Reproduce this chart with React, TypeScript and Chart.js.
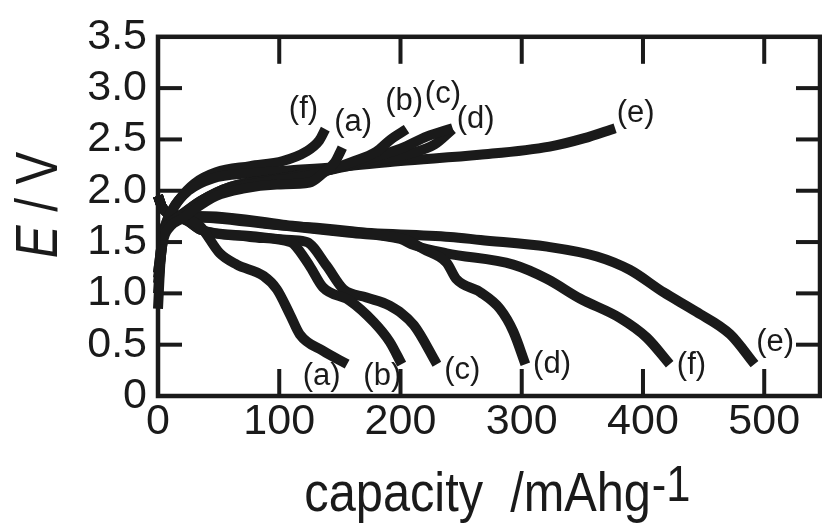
import React, { useEffect, useRef } from "react";
import { Chart, registerables } from "chart.js";

Chart.register(...registerables);

// ---- data: [capacity mAh/g, E / V] ----
const chargeA: [number, number][] = [[0, 1.1], [4, 1.5], [10, 1.65], [20, 1.73], [30, 1.82], [48, 1.95], [70, 2.02], [98, 2.06], [125, 2.08], [136, 2.17], [146, 2.28], [150, 2.37], [152, 2.42]];
const chargeB: [number, number][] = [[0, 1.2], [4, 1.55], [12, 1.7], [25, 1.8], [40, 1.93], [60, 2.02], [90, 2.09], [115, 2.13], [135, 2.18], [160, 2.28], [180, 2.38], [192, 2.5], [205, 2.6]];
const chargeC: [number, number][] = [[0, 1.15], [5, 1.58], [15, 1.72], [35, 1.9], [60, 2.04], [100, 2.12], [140, 2.2], [170, 2.3], [200, 2.41], [222, 2.53], [243, 2.61]];
const chargeD: [number, number][] = [[0, 1.2], [5, 1.6], [15, 1.73], [35, 1.9], [60, 2.04], [100, 2.12], [140, 2.2], [180, 2.3], [210, 2.37], [228, 2.45], [243, 2.6]];
const chargeE: [number, number][] = [[0, 0.85], [2, 1.3], [5, 1.6], [12, 1.82], [25, 2.0], [45, 2.12], [75, 2.17], [110, 2.2], [145, 2.23], [200, 2.29], [265, 2.35], [323, 2.43], [351, 2.51], [377, 2.61]];
const chargeF: [number, number][] = [[0, 1.0], [3, 1.5], [8, 1.72], [18, 1.92], [30, 2.07], [48, 2.18], [76, 2.24], [103, 2.29], [122, 2.38], [133, 2.49], [138, 2.6]];

const dischargeA: [number, number][] = [[0, 1.95], [3, 1.85], [8, 1.78], [18, 1.74], [25, 1.72], [35, 1.65], [51, 1.39], [65, 1.28], [87, 1.17], [98, 1.04], [109, 0.79], [117, 0.6], [136, 0.44], [156, 0.31]];
const dischargeB: [number, number][] = [[0, 1.95], [3, 1.85], [8, 1.78], [18, 1.74], [25, 1.7], [35, 1.62], [76, 1.55], [109, 1.5], [112, 1.48], [125, 1.27], [136, 1.06], [158, 0.93], [178, 0.72], [191, 0.53], [201, 0.31]];
const dischargeC: [number, number][] = [[0, 1.95], [3, 1.85], [8, 1.78], [18, 1.74], [25, 1.7], [35, 1.62], [76, 1.56], [110, 1.52], [123, 1.5], [139, 1.27], [153, 1.04], [172, 0.96], [191, 0.88], [211, 0.69], [230, 0.31]];
const dischargeD: [number, number][] = [[0, 1.95], [3, 1.85], [8, 1.78], [18, 1.75], [48, 1.73], [103, 1.66], [131, 1.64], [183, 1.57], [205, 1.52], [219, 1.43], [238, 1.3], [246, 1.14], [266, 1.01], [282, 0.85], [293, 0.63], [303, 0.31]];
const dischargeE: [number, number][] = [[0, 1.95], [3, 1.85], [8, 1.78], [18, 1.76], [48, 1.75], [103, 1.67], [158, 1.6], [241, 1.55], [266, 1.52], [321, 1.455], [362, 1.36], [389, 1.23], [417, 1.01], [444, 0.82], [472, 0.6], [492, 0.31]];
const dischargeF: [number, number][] = [[0, 1.95], [3, 1.85], [8, 1.78], [18, 1.75], [48, 1.74], [103, 1.66], [158, 1.59], [200, 1.53], [211, 1.47], [238, 1.39], [293, 1.28], [321, 1.14], [348, 0.95], [381, 0.76], [403, 0.57], [422, 0.31]];

const seriesList = [chargeA, chargeB, chargeC, chargeD, chargeE, chargeF, dischargeA, dischargeB, dischargeC, dischargeD, dischargeE, dischargeF];

// curve labels
const curveLabelText = ["(a)", "(b)", "(c)", "(d)", "(f)", "(e)", "(f)", "(a)", "(b)", "(c)", "(d)", "(e)"];
const curveLabelX = [135, 185, 251, 325, 440, 509, 120, 161, 203, 235, 262, 394];
const curveLabelY = [0.19, 0.19, 0.25, 0.31, 0.30, 0.52, 2.79, 2.67, 2.87, 2.94, 2.69, 2.75];

// ticks
const xTickValues = [0, 100, 200, 300, 400, 500];
const yTickValues = [0, 0.5, 1.0, 1.5, 2.0, 2.5, 3.0, 3.5];
const xMax = 546;
const yMax = 3.5;

const FONT = '"Liberation Sans", Arial, Helvetica, sans-serif';
const INK = "#1a1a1a";

const decorPlugin = {
  id: "decor",
  afterDraw(chart: any) {
    const ctx: CanvasRenderingContext2D = chart.ctx;
    const xs = chart.scales.x;
    const ys = chart.scales.y;
    const { left, right, top, bottom } = chart.chartArea;
    ctx.save();
    ctx.fillStyle = INK;
    ctx.strokeStyle = INK;
    // inward ticks (as filled bars)
    const tw = 4;
    xTickValues.forEach((v) => {
      if (v === 0) return;
      const px = xs.getPixelForValue(v);
      ctx.fillRect(px - tw / 2, bottom - 27, tw, 27);
      ctx.fillRect(px - tw / 2, top, tw, 27);
    });
    yTickValues.forEach((v) => {
      if (v === 0 || v === yMax) return;
      const py = ys.getPixelForValue(v);
      ctx.fillRect(left, py - tw / 2, 24, tw);
      ctx.fillRect(right - 24, py - tw / 2, 24, tw);
    });
    // frame
    ctx.lineWidth = 4.5;
    ctx.strokeRect(left, top, right - left, bottom - top);

    // curve labels
    ctx.font = `31px ${FONT}`;
    ctx.textAlign = "center";
    ctx.textBaseline = "middle";
    curveLabelText.forEach((t, i) => {
      ctx.fillText(t, xs.getPixelForValue(curveLabelX[i]), ys.getPixelForValue(curveLabelY[i]));
    });

    // x axis title with superscript
    const sx = 0.87;
    ctx.textAlign = "left";
    ctx.textBaseline = "alphabetic";
    const mainText = "capacity  /mAhg";
    const supText = "-1";
    ctx.font = `56px ${FONT}`;
    const w1 = ctx.measureText(mainText).width;
    ctx.font = `50px ${FONT}`;
    const w2 = ctx.measureText(supText).width;
    const cx = 497;
    const startX = cx - ((w1 + w2) * sx) / 2;
    ctx.save();
    ctx.translate(startX, 511);
    ctx.scale(sx, 1);
    ctx.font = `56px ${FONT}`;
    ctx.fillText(mainText, 0, 0);
    ctx.font = `50px ${FONT}`;
    ctx.fillText(supText, w1 + 1, -10);
    ctx.restore();

    // y axis title: italic E / V
    const sy = 0.82;
    ctx.save();
    ctx.translate(57, 205);
    ctx.rotate(-Math.PI / 2);
    ctx.scale(sy, 1);
    ctx.font = `italic 60px ${FONT}`;
    const wE = ctx.measureText("E").width;
    ctx.font = `60px ${FONT}`;
    const rest = " / V";
    const wR = ctx.measureText(rest).width;
    const x0 = -(wE + wR) / 2;
    ctx.font = `italic 60px ${FONT}`;
    ctx.fillText("E", x0, 0);
    ctx.font = `60px ${FONT}`;
    ctx.fillText(rest, x0 + wE, 0);
    ctx.restore();

    ctx.restore();
  },
};

export default function App() {
  const canvasRef = useRef<HTMLCanvasElement | null>(null);

  useEffect(() => {
    if (!canvasRef.current) return;
    const chart = new Chart(canvasRef.current, {
      type: "line",
      data: {
        datasets: seriesList.map((s) => ({
          data: s.map(([x, y]) => ({ x, y })),
          borderColor: INK,
          borderWidth: 10,
          borderCapStyle: "butt" as const,
          borderJoinStyle: "round" as const,
          pointRadius: 0,
          fill: false,
          cubicInterpolationMode: "monotone" as const,
          clip: 10,
        })),
      },
      options: {
        animation: false,
        responsive: false,
        events: [],
        layout: { padding: { left: 0, right: 2, top: 29, bottom: 0 } },
        plugins: { legend: { display: false }, tooltip: { enabled: false }, title: { display: false } },
        scales: {
          x: {
            type: "linear",
            min: 0,
            max: xMax,
            grid: { display: false, drawTicks: false },
            border: { display: false },
            afterBuildTicks: (scale: any) => {
              scale.ticks = xTickValues.map((v) => ({ value: v }));
            },
            afterFit: (scale: any) => {
              scale.height = 130;
            },
            ticks: {
              autoSkip: false,
              maxRotation: 0,
              padding: 0,
              color: INK,
              font: { family: FONT, size: 43 },
              callback: (v: any) => String(v),
            },
          },
          y: {
            type: "linear",
            min: 0,
            max: yMax,
            grid: { display: false, drawTicks: false },
            border: { display: false },
            afterBuildTicks: (scale: any) => {
              scale.ticks = yTickValues.map((v) => ({ value: v }));
            },
            afterFit: (scale: any) => {
              scale.width = 158;
            },
            ticks: {
              autoSkip: false,
              padding: 11,
              color: INK,
              font: { family: FONT, size: 43 },
              callback: (v: any) => (Number(v) === 0 ? "0" : Number(v).toFixed(1)),
            },
          },
        },
      },
      plugins: [decorPlugin],
    });
    return () => chart.destroy();
  }, []);

  return (
    <div style={{ position: "fixed", left: 0, top: 0, width: 822, height: 526, background: "#fff" }}>
      <canvas ref={canvasRef} width={822} height={526} style={{ display: "block" }} />
    </div>
  );
}
